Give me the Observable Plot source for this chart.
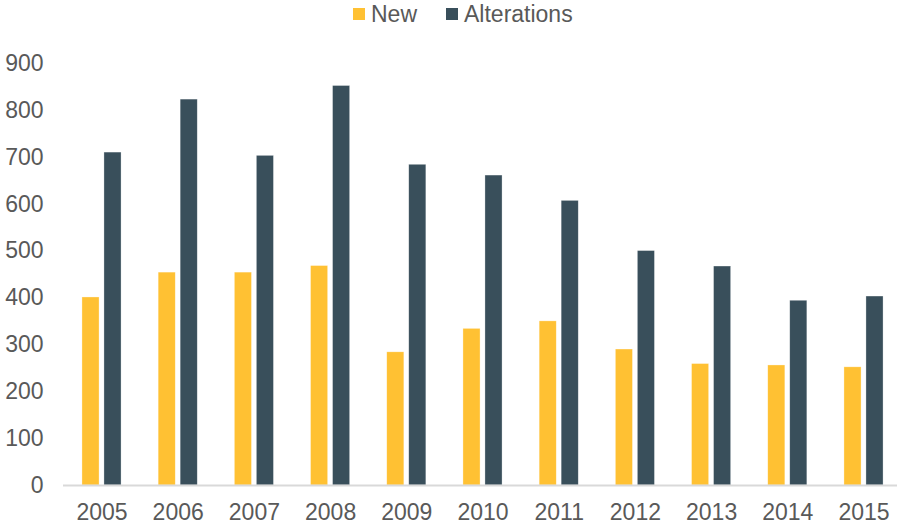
<!DOCTYPE html>
<html>
<head>
<meta charset="utf-8">
<script src="https://cdn.jsdelivr.net/npm/d3@7"></script>
<script src="https://cdn.jsdelivr.net/npm/@observablehq/plot@0.6"></script>
<style>
  html, body { margin: 0; padding: 0; background: #fff; }
  body { width: 897px; height: 527px; overflow: hidden; font-family: "Liberation Sans", Arial, sans-serif; }
  #legend { height: 28px; position: relative; font-size: 23px; color: #595959; }
  #legend .item { position: absolute; top: 1px; line-height: 26px; display: flex; align-items: center; }
  #legend .sw { display: inline-block; width: 12px; height: 12px; margin-right: 6px; }
</style>
</head>
<body>
<div id="legend"></div>
<div id="chart"></div>
<script>
const years = ["2005","2006","2007","2008","2009","2010","2011","2012","2013","2014","2015"];
const newValues = [401, 454, 454, 468, 284, 334, 350, 290, 259, 256, 252];
const alterationValues = [710, 823, 703, 852, 684, 661, 607, 500, 467, 394, 403];
const seriesNames = ["New", "Alterations"];
const seriesColors = ["#FFC133", "#394F5B"];
const yTicks = [0, 100, 200, 300, 400, 500, 600, 700, 800, 900];

const newData = years.map((y, i) => ({year: y, series: "New", value: newValues[i]}));
const altData = years.map((y, i) => ({year: y, series: "Alterations", value: alterationValues[i]}));

// legend
const legend = document.getElementById("legend");
const legendX = [353, 446];
seriesNames.forEach((s, i) => {
  const it = document.createElement("div");
  it.className = "item";
  it.style.left = legendX[i] + "px";
  it.innerHTML = `<span class="sw" style="background:${seriesColors[i]}"></span><span>${s}</span>`;
  legend.appendChild(it);
});

const barOpts = {x: "year", y: "value", fill: "series", stroke: "#ffffff", strokeOpacity: 0.5, strokeWidth: 0.6};

const chart = Plot.plot({
  width: 897,
  height: 499,
  marginLeft: 63,
  marginRight: 0,
  marginTop: 35,
  marginBottom: 42,
  style: {fontFamily: "Liberation Sans, Arial, sans-serif", fontSize: "23px", color: "#595959", background: "#fff"},
  x: {domain: years, range: [63.4, 901.6], round: false, paddingInner: 0.487, paddingOuter: 0.2435, label: null, tickSize: 0, tickPadding: 18},
  y: {domain: [0, 900], ticks: yTicks, tickSize: 0, tickPadding: 20, label: null, tickFormat: d => String(d)},
  color: {domain: seriesNames, range: seriesColors},
  marks: [
    Plot.barY(newData, {...barOpts, insetLeft: 0, insetRight: 22}),
    Plot.barY(altData, {...barOpts, insetLeft: 22, insetRight: 0}),
    Plot.ruleY([0], {stroke: "#d9d9d9", strokeWidth: 2})
  ]
});
document.getElementById("chart").appendChild(chart);
</script>
</body>
</html>
